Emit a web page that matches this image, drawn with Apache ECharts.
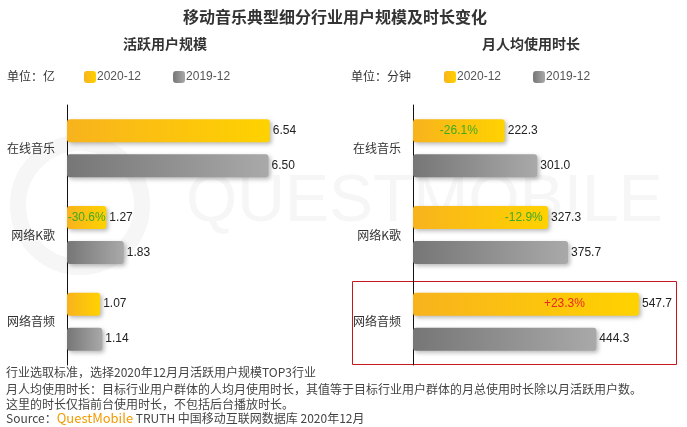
<!DOCTYPE html>
<html><head><meta charset="utf-8">
<script src="https://cdn.jsdelivr.net/npm/echarts@6/dist/echarts.min.js"></script>
<style>html,body{margin:0;padding:0;background:#fff}#c{width:687px;height:427px}</style>
</head><body><div id="c"></div>
<script>
// ---- data ----
const categories = ['在线音乐', '网络K歌', '网络音频'];
const seriesNames = ['2020-12', '2019-12'];
const users2020 = [6.54, 1.27, 1.07];
const users2019 = [6.50, 1.83, 1.14];
const time2020 = [222.3, 327.3, 547.7];
const time2019 = [301.0, 375.7, 444.3];
const usersChange = [null, '-30.6%', null];
const timeChange = ['-26.1%', '-12.9%', '+23.3%'];

// ---- style ----
const usersPctAnchor = [0.5, 0.5, 0.5];
const timePctAnchor = [0.5, 0.82, 0.67];
const FONT = '"Noto Sans CJK SC","Noto Sans",sans-serif';
const gold = new echarts.graphic.LinearGradient(0,0,1,0,[{offset:0,color:'#F8B31D'},{offset:1,color:'#FFD200'}]);
const gray = new echarts.graphic.LinearGradient(0,0,1,0,[{offset:0,color:'#767676'},{offset:1,color:'#A9A9A9'}]);
function pctColor(t){ return t.charAt(0) === '+' ? '#E8291C' : '#3FAA25'; }

function barSeries(name, data, idx, color, pcts, anchors) {
  const s = {
    name: name, type: 'bar', xAxisIndex: idx, yAxisIndex: idx,
    data: data, barWidth: 23, barGap: '52%',
    itemStyle: { color: color, borderRadius: 3, shadowColor: 'rgba(0,0,0,0.28)', shadowBlur: 4, shadowOffsetX: 2, shadowOffsetY: 2 },
    label: { show: true, position: 'right', distance: 3, color: '#222', fontSize: 12, fontFamily: 'Arial, "Liberation Sans", sans-serif',
      formatter: p => idx === 0 ? p.value.toFixed(2) : p.value.toFixed(1) },
    emphasis: { disabled: true }
  };
  if (pcts) {
    const mp = [];
    pcts.forEach((t, i) => {
      if (t) mp.push({ coord: [data[i] * anchors[i], categories[i]], name: t,
        label: { color: pctColor(t) } });
    });
    s.markPoint = { symbol: 'rect', symbolSize: 1, itemStyle: { color: 'rgba(0,0,0,0)' },
      label: { show: true, position: 'inside', fontSize: 12, fontFamily: 'Arial, "Liberation Sans", sans-serif', formatter: p => p.name },
      data: mp, silent: true };
  }
  return s;
}

const legendBase = {
  icon: 'roundRect', itemWidth: 12, itemHeight: 12, itemGap: 32, padding: 0,
  textStyle: { color: '#555', fontSize: 12, fontFamily: 'Arial, "Liberation Sans", sans-serif', padding: [0,0,0,-4] },
  data: seriesNames, selectedMode: false
};

const chart = echarts.init(document.getElementById('c'));
chart.setOption({
  backgroundColor: '#fff',
  animation: false,
  title: [
    { text: '移动音乐典型细分行业用户规模及时长变化', left: 330, top: 4, textAlign: 'center',
      textStyle: { fontSize: 16, fontWeight: 'bold', color: '#333', fontFamily: FONT } },
    { text: '活跃用户规模', left: 160, top: 32, textAlign: 'center',
      textStyle: { fontSize: 14, fontWeight: 'bold', color: '#333', fontFamily: FONT } },
    { text: '月人均使用时长', left: 526, top: 32, textAlign: 'center',
      textStyle: { fontSize: 14, fontWeight: 'bold', color: '#333', fontFamily: FONT } }
  ],
  legend: [
    Object.assign({}, legendBase, { left: 84, top: 71 }),
    Object.assign({}, legendBase, { left: 444, top: 71 })
  ],
  grid: [
    { left: 67, top: 105, width: 248, height: 260 },
    { left: 413, top: 105, width: 247.6, height: 260 }
  ],
  xAxis: [
    { type: 'value', gridIndex: 0, min: 0, max: 8, show: false },
    { type: 'value', gridIndex: 1, min: 0, max: 600, show: false }
  ],
  yAxis: [0, 1].map(i => ({
    type: 'category', gridIndex: i, data: categories, inverse: true,
    axisLine: { show: true, lineStyle: { color: '#111', width: 1 } },
    axisTick: { show: false },
    axisLabel: { color: '#333', fontSize: 12, margin: 12, fontFamily: FONT }
  })),
  series: [
    barSeries(seriesNames[0], users2020, 0, gold, usersChange, usersPctAnchor),
    barSeries(seriesNames[1], users2019, 0, gray),
    barSeries(seriesNames[0], time2020, 1, gold, timeChange, timePctAnchor),
    barSeries(seriesNames[1], time2019, 1, gray)
  ],
  graphic: [
    { type: 'circle', z: -10, silent: true, shape: { cx: 80, cy: 205, r: 62 },
      style: { fill: 'none', stroke: '#f6f6f6', lineWidth: 16 } },
    { type: 'text', z: -10, silent: true, left: 186, top: 170,
      style: { text: 'QUESTMOBILE', fontSize: 66, fontFamily: 'Arial, sans-serif', fill: '#f6f6f6', letterSpacing: 4 } },
    { type: 'text', left: 7, top: 70, style: { text: '单位：亿', fontSize: 12, fill: '#333', fontFamily: FONT } },
    { type: 'text', left: 351, top: 70, style: { text: '单位：分钟', fontSize: 12, fill: '#333', fontFamily: FONT } },
    { type: 'rect', silent: true, shape: { x: 352.5, y: 281.5, width: 324, height: 83 },
      style: { fill: 'none', stroke: '#C8161D', lineWidth: 1 } },
    { type: 'text', left: 6, top: 366, style: { text: '行业选取标准，选择2020年12月月活跃用户规模TOP3行业', fontSize: 12, fill: '#444', fontFamily: FONT } },
    { type: 'text', left: 6, top: 383, style: { text: '月人均使用时长：目标行业用户群体的人均月使用时长，其值等于目标行业用户群体的月总使用时长除以月活跃用户数。', fontSize: 12, fill: '#444', fontFamily: FONT } },
    { type: 'text', left: 6, top: 398, style: { text: '这里的时长仅指前台使用时长，不包括后台播放时长。', fontSize: 12, fill: '#444', fontFamily: FONT } },
    { type: 'text', left: 6, top: 412, style: {
      text: 'Source：{q|QuestMobile} TRUTH 中国移动互联网数据库 2020年12月', fontSize: 12, fill: '#444', fontFamily: FONT,
      rich: { q: { fontSize: 13, fill: '#F39A00', fontFamily: FONT } } } }
  ]
});
</script></body></html>
